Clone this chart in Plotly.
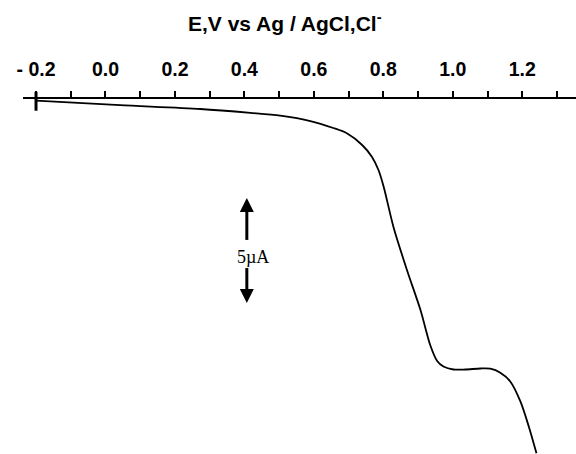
import plotly.graph_objects as go

# ---- data ----
potential_V = [-0.20, 0.042, 0.273, 0.417, 0.503, 0.590, 0.656, 0.695, 0.739, 0.767,
               0.786, 0.801, 0.829, 0.868, 0.907, 0.935, 0.955, 0.973, 1.002, 1.036,
               1.080, 1.108, 1.137, 1.166, 1.195, 1.219, 1.241]
current_uA = [-0.08, -0.295, -0.476, -0.662, -0.795, -1.048, -1.381, -1.633, -2.190, -2.748,
              -3.381, -4.176, -6.081, -8.143, -10.048, -11.714, -12.476, -12.738, -12.881, -12.881,
              -12.833, -12.843, -13.033, -13.462, -14.414, -15.605, -16.871]

tick_minor_V = [round(-0.2 + 0.1 * i, 1) for i in range(16)]
tick_label_V = [-0.2, 0.0, 0.2, 0.4, 0.6, 0.8, 1.0, 1.2]
tick_label_text = ["- 0.2", "0.0", "0.2", "0.4", "0.6", "0.8", "1.0", "1.2"]

title_text = "E,V vs Ag / AgCl,Cl<sup>-</sup>"
scalebar_uA = 5
scalebar_label = "5µA"
scalebar_x_V = 0.407
scalebar_center_uA = -7.22

x_range = [-0.2375, 1.3548]
y_range = [-16.905, 0.0]

fig = go.Figure()
fig.add_trace(go.Scatter(
    x=potential_V, y=current_uA, mode="lines",
    line=dict(color="black", width=1.8, shape="spline", smoothing=0.8),
    hoverinfo="skip", showlegend=False,
))

# scale bar: two arrows spanning scalebar_uA
half = scalebar_uA / 2
tip_up = scalebar_center_uA + half
tip_dn = scalebar_center_uA - half
tail_up = scalebar_center_uA + 0.51
tail_dn = scalebar_center_uA - 0.83
fig.add_trace(go.Scatter(
    x=[scalebar_x_V, scalebar_x_V, None, scalebar_x_V, scalebar_x_V],
    y=[tail_up, tip_up - 0.4, None, tail_dn, tip_dn + 0.4],
    mode="lines", line=dict(color="black", width=3),
    hoverinfo="skip", showlegend=False,
))
fig.add_trace(go.Scatter(
    x=[scalebar_x_V, scalebar_x_V], y=[tip_up, tip_dn], mode="markers",
    marker=dict(symbol=["arrow-up", "arrow-down"], size=14, color="black",
                line=dict(width=0)),
    hoverinfo="skip", showlegend=False,
))
fig.add_annotation(x=scalebar_x_V, y=scalebar_center_uA - 0.3, xref="x", yref="y",
                   text=scalebar_label, showarrow=False, xshift=6,
                   font=dict(family="Liberation Serif", size=18, color="black"))

fig.add_annotation(x=0.474, y=1.217, xref="paper", yref="paper", text=title_text,
                   showarrow=False, xanchor="center", yanchor="middle",
                   font=dict(family="Liberation Sans", size=21, color="black", weight="bold"))

# heavy start tick
fig.add_shape(type="line", xref="x", yref="paper", x0=tick_label_V[0], x1=tick_label_V[0],
              y0=1.02, y1=0.967, line=dict(color="black", width=3))

fig.update_xaxes(
    side="top", range=x_range, showline=True, linecolor="black", linewidth=2,
    showgrid=False, zeroline=False,
    tickmode="array", tickvals=tick_label_V, ticktext=tick_label_text,
    ticks="outside", ticklen=6, tickwidth=2, tickcolor="black",
    minor=dict(tickmode="array", tickvals=tick_minor_V, ticks="outside", ticklen=6,
               tickwidth=2, tickcolor="black", showgrid=False),
    tickfont=dict(family="Liberation Sans", size=19.5, color="black", weight="bold"),
    ticklabelstandoff=7,
)
fig.update_yaxes(range=y_range, visible=False, showgrid=False, zeroline=False)

fig.update_layout(
    width=576, height=454, margin=dict(l=23, r=0, t=99, b=0),
    paper_bgcolor="white", plot_bgcolor="white",
)

fig.write_html("out.html")
